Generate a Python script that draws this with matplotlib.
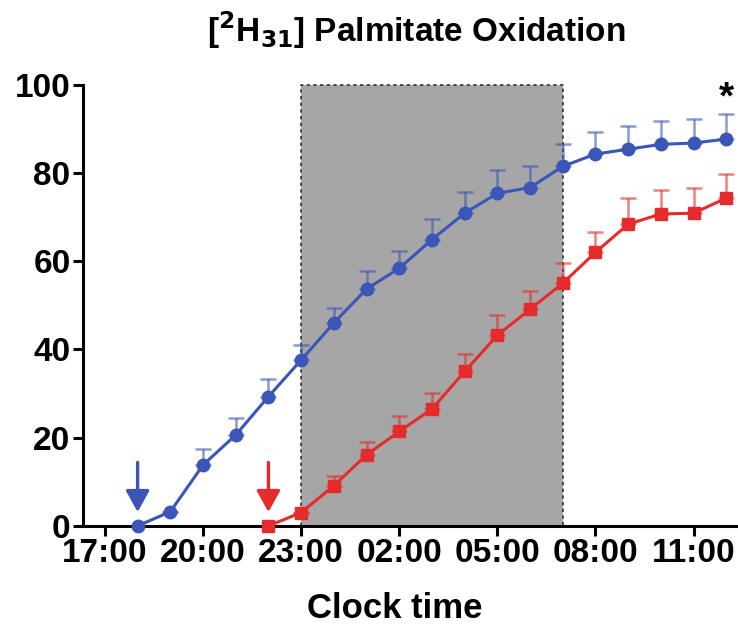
import matplotlib.pyplot as plt

plt.rcParams['font.family'] = ['Liberation Sans', 'DejaVu Sans']
plt.rcParams['font.weight'] = 'bold'

# clock time in hours (24 = midnight, 26 = 02:00 ...)
blue_t = [18, 19, 20, 21, 22, 23, 24, 25, 26, 27, 28, 29, 30, 31, 32, 33, 34, 35, 36]
blue_y = [0, 3.2, 13.8, 20.6, 29.3, 37.6, 46.0, 53.7, 58.4, 64.9, 70.9, 75.4, 76.7, 81.5, 84.3, 85.4, 86.5, 86.8, 87.7]
blue_err = [0, 0, 3.6, 3.8, 4.0, 3.4, 3.4, 4.0, 4.0, 4.6, 4.8, 5.2, 4.9, 5.0, 5.1, 5.3, 5.3, 5.4, 5.7]

red_t = [22, 23, 24, 25, 26, 27, 28, 29, 30, 31, 32, 33, 34, 35, 36]
red_y = [0, 3.0, 9.1, 16.1, 21.4, 26.5, 35.0, 43.2, 49.1, 55.0, 62.0, 68.4, 70.7, 70.9, 74.3]
red_err = [0, 0, 2.3, 2.8, 3.4, 3.7, 4.0, 4.7, 4.2, 4.7, 4.6, 5.9, 5.5, 5.7, 5.5]

xticks = [17, 20, 23, 26, 29, 32, 35]
xtick_labels = ['17:00', '20:00', '23:00', '02:00', '05:00', '08:00', '11:00']
night = (23, 31)

blue = '#3b55b8'
red = '#e52b2b'

fig = plt.figure(figsize=(7.38, 6.26), dpi=100)
ax = fig.add_axes([0.1125, 0.16, 0.8875, 0.7045])

# dark period
ax.axvspan(night[0], night[1], ymin=0, ymax=1.0, facecolor='#a6a6a6', edgecolor='none', zorder=0)
ax.plot([night[0], night[0], night[1], night[1]], [0, 100, 100, 0], ls=(0, (2, 2)),
        color='#333333', lw=1.2, zorder=1, clip_on=False)

for t, y, e, c, m in [(blue_t, blue_y, blue_err, blue, 'o'), (red_t, red_y, red_err, red, 's')]:
    ax.errorbar(t, y, yerr=[[0] * len(e), e], fmt='none', ecolor=c, alpha=0.6,
                elinewidth=1.8, capsize=6, capthick=1.8, clip_on=False, zorder=2)
    ax.plot(t, y, color=c, lw=2.2, marker=m, markersize=9, clip_on=False, zorder=3)

# start arrows
arrow_style = '-|>,head_length=0.65,head_width=0.36'
ax.annotate('', xy=(18, 2.5), xytext=(18, 15),
            arrowprops=dict(arrowstyle=arrow_style, color=blue, lw=2.4, mutation_scale=20))
ax.annotate('', xy=(22, 2.5), xytext=(22, 15),
            arrowprops=dict(arrowstyle=arrow_style, color=red, lw=2.4, mutation_scale=20))

ax.text(36, 97, '*', ha='center', va='center', fontsize=28, fontweight='bold')

ax.set_xlim(16.33, 36.36)
ax.set_ylim(0, 100)
ax.set_xticks(xticks)
ax.set_xticklabels(xtick_labels)
ax.set_yticks([0, 20, 40, 60, 80, 100])
for s in ['top', 'right']:
    ax.spines[s].set_visible(False)
for s in ['left', 'bottom']:
    ax.spines[s].set_linewidth(2.2)
ax.tick_params(width=2.2, length=7, labelsize=24, pad=2)
for lab in ax.get_xticklabels() + ax.get_yticklabels():
    lab.set_fontweight('bold')

fig.text(395 / 738, 1 - 609 / 626, 'Clock time', fontsize=25, fontweight='bold',
         ha='center', va='center')
fig.text(416 / 738, 1 - 30 / 626, r'[$\mathbf{^2}$H$\mathbf{_{31}}$] Palmitate Oxidation',
         fontsize=24, fontweight='bold', ha='center', va='center')

fig.savefig('out.png', dpi=100)
